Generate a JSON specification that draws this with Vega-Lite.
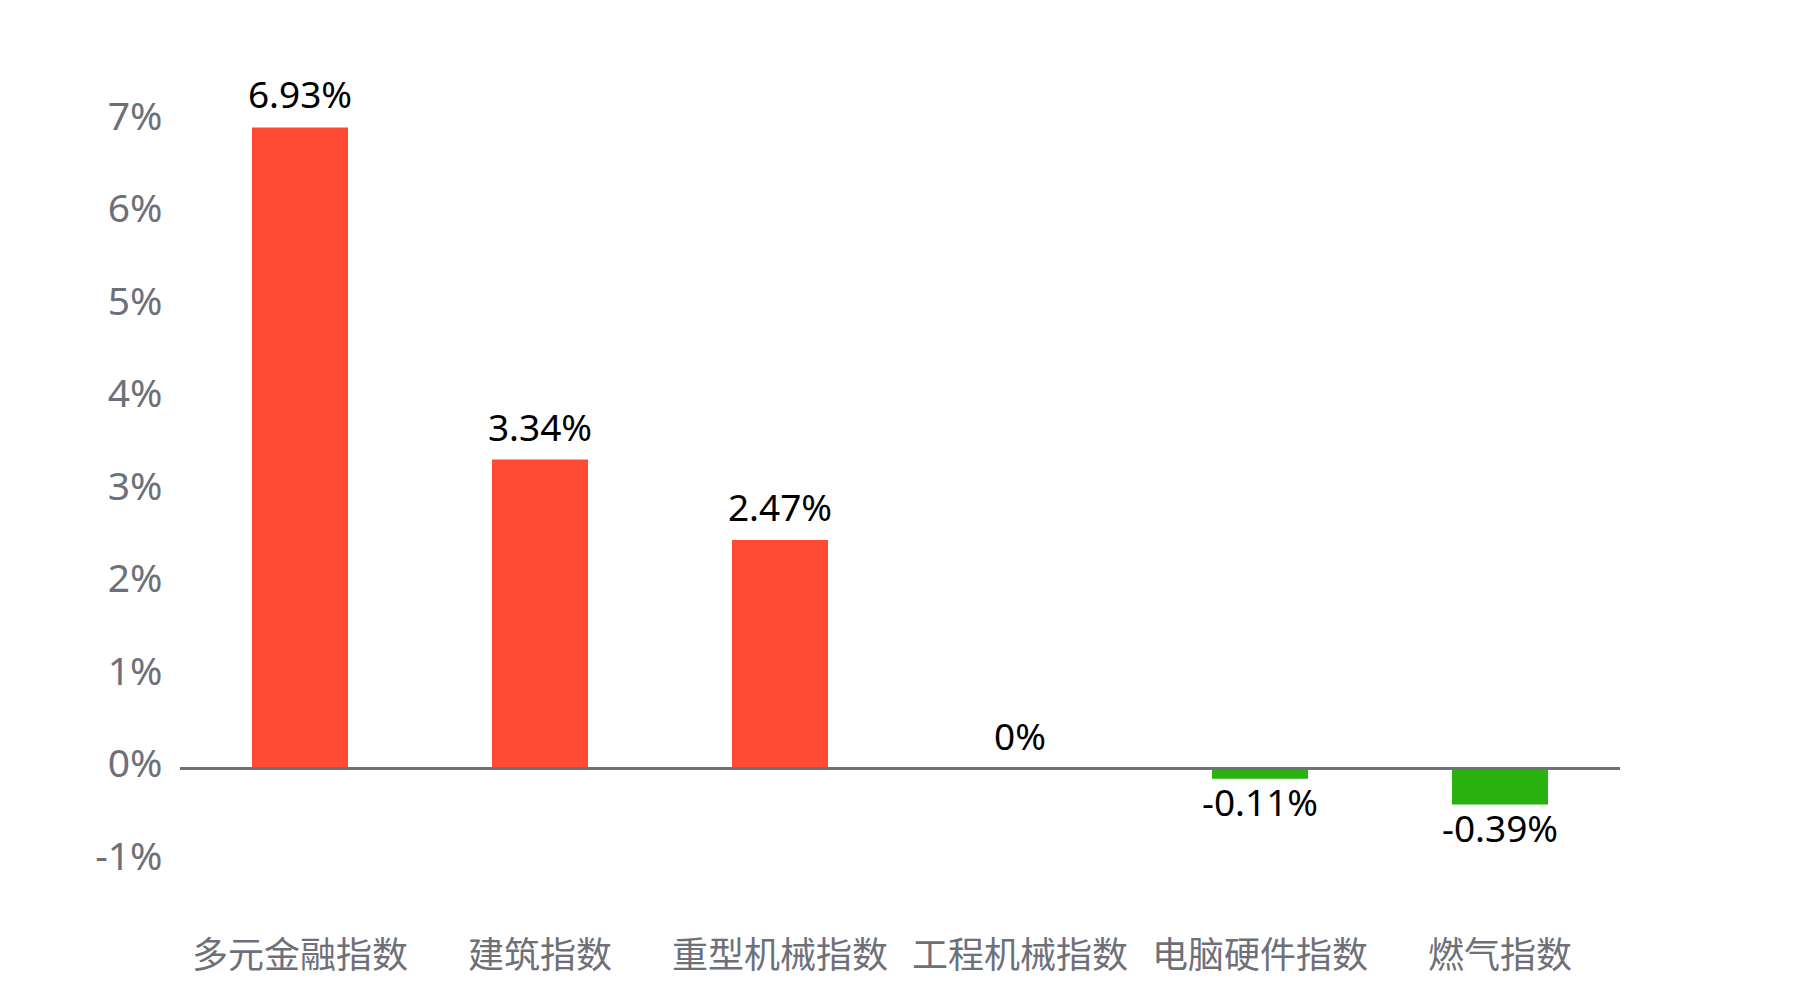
{
  "$schema": "https://vega.github.io/schema/vega-lite/v6.json",
  "autosize": {"type": "none"},
  "width": 1440,
  "height": 740,
  "padding": {"left": 180, "top": 121, "right": 180, "bottom": 139},
  "background": "#ffffff",
  "config": {
    "view": {"stroke": null},
    "locale": {"number": {"decimal": ".", "thousands": ",", "grouping": [3], "currency": ["$", ""], "minus": "-"}},
    "font": "Noto Sans CJK SC"
  },
  "data": {
    "values": [
      {"name": "多元金融指数", "value": 0.0693},
      {"name": "建筑指数", "value": 0.0334},
      {"name": "重型机械指数", "value": 0.0247},
      {"name": "工程机械指数", "value": 0},
      {"name": "电脑硬件指数", "value": -0.0011},
      {"name": "燃气指数", "value": -0.0039}
    ]
  },
  "layer": [
    {
      "mark": {"type": "bar"},
      "encoding": {
        "x": {
          "field": "name", "type": "nominal", "sort": null,
          "scale": {"paddingInner": 0.6, "paddingOuter": 0.3},
          "axis": {"title": null, "domain": false, "ticks": false, "labelAngle": 0, "labelPadding": 78, "labelLimit": 0, "labelFontSize": 36, "labelColor": "#6e7079", "labelFont": "Noto Sans CJK SC"}
        },
        "y": {
          "field": "value", "type": "quantitative",
          "scale": {"domain": [-0.01, 0.07], "nice": false, "zero": false},
          "axis": {"title": null, "domain": false, "ticks": false, "grid": false, "values": [-0.01, 0, 0.01, 0.02, 0.03, 0.04, 0.05, 0.06, 0.07], "format": ".0%", "labelPadding": 18, "labelOffset": -4, "labelFontSize": 39, "labelColor": "#6e7079", "labelFont": "Noto Sans", "labelBaseline": "middle"}
        },
        "color": {
          "condition": {"test": "datum.value >= 0", "value": "#ff4b33"},
          "value": "#29b110"
        }
      }
    },
    {
      "mark": {"type": "rule", "color": "#6e7079", "strokeWidth": 2},
      "encoding": {"y": {"datum": 0}}
    },
    {
      "transform": [{"filter": "datum.value >= 0"}],
      "mark": {"type": "text", "baseline": "alphabetic", "dy": -19, "fontSize": 37, "color": "#000000", "font": "Noto Sans"},
      "encoding": {
        "x": {"field": "name", "type": "nominal", "sort": null},
        "y": {"field": "value", "type": "quantitative"},
        "text": {"field": "value", "type": "quantitative", "format": ".2~%"}
      }
    },
    {
      "transform": [{"filter": "datum.value < 0"}],
      "mark": {"type": "text", "baseline": "alphabetic", "dy": 37, "fontSize": 37, "color": "#000000", "font": "Noto Sans"},
      "encoding": {
        "x": {"field": "name", "type": "nominal", "sort": null},
        "y": {"field": "value", "type": "quantitative"},
        "text": {"field": "value", "type": "quantitative", "format": ".2~%"}
      }
    }
  ]
}
